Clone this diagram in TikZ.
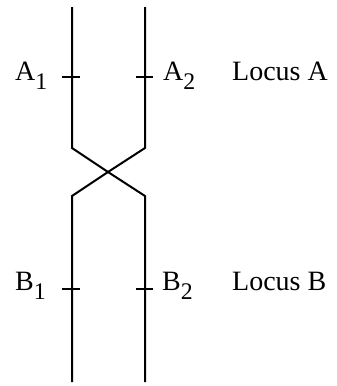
\documentclass[tikz,border=0pt]{standalone}
\usepackage{fontspec}
\setmainfont{Liberation Serif}
\usepackage{graphicx}
\usetikzlibrary{positioning}
\newcommand{\lowsub}[1]{\raisebox{-0.75ex}{\scalebox{0.85}{#1}}}
\tikzset{
  chrom/.style={line width=2pt, line join=miter},
  tick/.style={line width=1.6pt},
  lbl/.style={font=\fontsize{28}{32}\selectfont, inner sep=0pt}
}

\begin{document}
\begin{tikzpicture}[x=1pt, y=-1pt]
\useasboundingbox (0,0) rectangle (337,386);
% Chromatide 1
\coordinate (c1top) at (72,7);
\coordinate (c1ta)  at (72,77);
\coordinate (c1bend) at (72,148);
\coordinate (x) at (108,172);
\coordinate (c1low) at (72,196);
\coordinate (c1tb)  at (72,289);
\coordinate (c1bot) at (72,382);
% Chromatide 2
\coordinate (c2top) at (145,7);
\coordinate (c2ta)  at (145,77);
\coordinate (c2bend) at (145,148);
\coordinate (c2low) at (145,196);
\coordinate (c2tb)  at (145,289);
\coordinate (c2bot) at (145,382);
% Brins croises
\draw[chrom] (c1top) -- (c1bend) -- (x) -- (c2low) -- (c2bot);
\draw[chrom] (c2top) -- (c2bend) -- (x) -- (c1low) -- (c1bot);
% Marques des locus
\draw[tick] ([xshift=-10pt]c1ta) -- ([xshift=8pt]c1ta);
\draw[tick] ([xshift=-9pt]c2ta) -- ([xshift=8pt]c2ta);
\draw[tick] ([xshift=-10pt]c1tb) -- ([xshift=8pt]c1tb);
\draw[tick] ([xshift=-9pt]c2tb) -- ([xshift=8pt]c2tb);
% Etiquettes
\node[lbl, anchor=base west] (A1) at (15,80) {A\lowsub{1}};
\node[lbl, anchor=base west] (A2) at (163,80) {A\lowsub{2}};
\node[lbl, anchor=base west] (locA) at (232,80) {Locus A};
\node[lbl, anchor=base west] (B1) at (15,290) {B\lowsub{1}};
\node[lbl, anchor=base west] (B2) at (162,290) {B\lowsub{2}};
\node[lbl, anchor=base west] (locB) at (232,290) {Locus B};
\end{tikzpicture}
\end{document}
